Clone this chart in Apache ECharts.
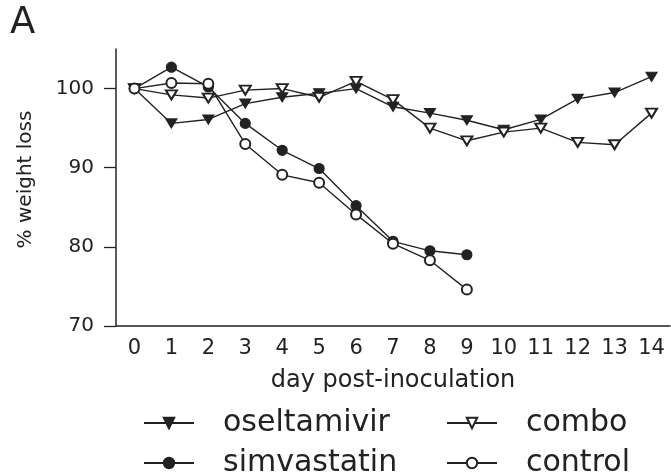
<!DOCTYPE html>
<html>
<head>
<meta charset="utf-8">
<script src="https://cdn.jsdelivr.net/npm/echarts@6/dist/echarts.min.js"></script>
<style>
  html, body { margin: 0; padding: 0; background: #fff; }
  #main { width: 671px; height: 474px; }
</style>
</head>
<body>
<div id="main"></div>
<script>
  // values (% of starting weight per day)
  const days = ['0', '1', '2', '3', '4', '5', '6', '7', '8', '9', '10', '11', '12', '13', '14']
  const oseltamivir = [100, 95.6, 96.1, 98.1, 98.9, 99.4, 100, 97.7, 96.9, 96.0, 94.8, 96.1, 98.7, 99.5, 101.5]
  const combo = [100, 99.2, 98.8, 99.8, 100, 98.9, 100.9, 98.6, 95.0, 93.4, 94.5, 95.0, 93.2, 92.9, 96.9]
  const simvastatin = [100, 102.7, 100.2, 95.6, 92.2, 89.9, 85.2, 80.7, 79.5, 79.0]
  const control = [100, 100.7, 100.6, 93.0, 89.1, 88.1, 84.1, 80.4, 78.3, 74.6]
  const yTicks = [70, 80, 90, 100]

  const font = 'DejaVu Sans'
  const ink = '#222'

  function lineSeries(name, data, symbol, rotate) {
    return {
      name: name,
      type: 'line',
      data: data,
      symbol: symbol,
      symbolSize: symbol.indexOf('ircle') >= 0 ? 10 : [11, 9],
      symbolRotate: rotate,
      showAllSymbol: true,
      lineStyle: { color: ink, width: 1.4 },
      itemStyle: { color: ink, borderColor: ink, borderWidth: 1.2 },
      emphasis: { disabled: true },
      z: 3
    }
  }

  function legendAt(name, left, top) {
    return {
      data: [name],
      left: left,
      top: top,
      padding: 0,
      itemWidth: 50,
      itemHeight: 13,
      selectedMode: false,
      textStyle: { fontFamily: font, fontSize: 30, color: ink, lineHeight: 30, padding: [0, 0, 0, 24] }
    }
  }

  const chart = echarts.init(document.getElementById('main'))
  chart.setOption({
    animation: false,
    backgroundColor: '#fff',
    title: {
      text: 'A',
      left: 10,
      top: 5,
      padding: 0,
      textStyle: { fontFamily: font, fontSize: 37, fontWeight: 'normal', color: ink }
    },
    grid: { left: 116, right: 1, top: 49, bottom: 148 },
    legend: [
      legendAt('oseltamivir', 143, 408),
      legendAt('combo', 446, 408),
      legendAt('simvastatin', 143, 448),
      legendAt('control', 446, 448)
    ],
    xAxis: {
      type: 'category',
      data: days,
      boundaryGap: true,
      name: 'day post-inoculation',
      nameLocation: 'middle',
      nameGap: 43,
      nameTextStyle: { fontFamily: font, fontSize: 24, color: ink },
      axisLine: { lineStyle: { color: ink, width: 1.5 } },
      axisTick: { alignWithLabel: true, length: 8, lineStyle: { color: ink, width: 1.3 } },
      axisLabel: { fontFamily: font, fontSize: 21, color: ink, margin: 12, interval: 0 },
      splitLine: { show: false }
    },
    yAxis: {
      type: 'value',
      min: 70,
      max: 105,
      name: '% weight loss',
      nameLocation: 'middle',
      nameGap: 80,
      nameTextStyle: { fontFamily: font, fontSize: 20, color: ink, padding: [0, 0, 0, 16] },
      axisLine: { show: true, lineStyle: { color: ink, width: 1.5 } },
      axisTick: { show: true, length: 12, customValues: yTicks, lineStyle: { color: ink, width: 1.3 } },
      axisLabel: { fontFamily: font, fontSize: 20, color: ink, margin: 22, customValues: yTicks },
      splitLine: { show: false }
    },
    series: [
      lineSeries('oseltamivir', oseltamivir, 'triangle', 180),
      lineSeries('combo', combo, 'emptyTriangle', 180),
      lineSeries('simvastatin', simvastatin, 'circle', 0),
      lineSeries('control', control, 'emptyCircle', 0)
    ]
  })
</script>
</body>
</html>
